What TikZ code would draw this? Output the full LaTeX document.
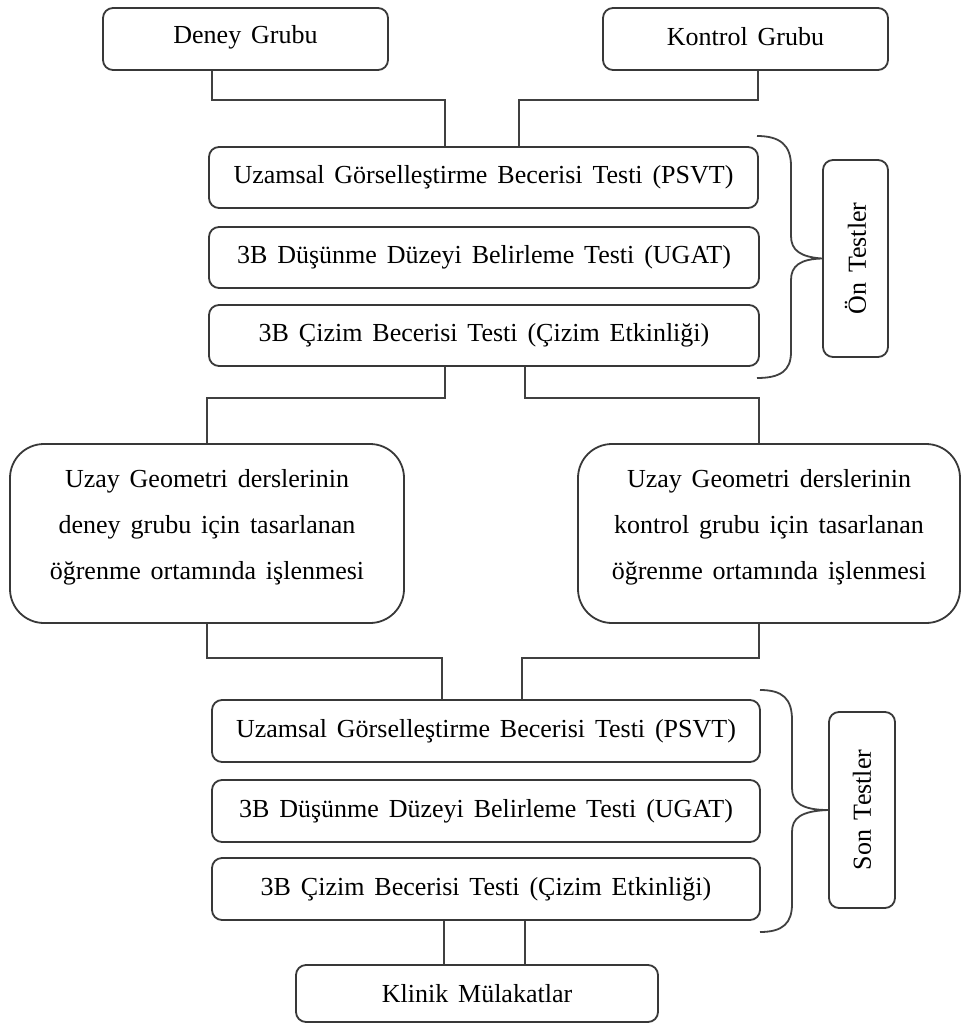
\documentclass[tikz,border=0pt]{standalone}
\usepackage{fontspec}
\setmainfont{Liberation Serif}
\newcommand\myboxfont{\fontsize{26}{46}\selectfont\spaceskip=0.38em\relax}
\newcommand\lift[2]{\raisebox{#1}[\height][\depth]{#2}}
\begin{document}
\begin{tikzpicture}[x=1pt,y=-1pt,
  box/.style={draw=black!78,line width=1.8pt,rounded corners=10pt,inner sep=0pt,
    font=\myboxfont,align=center},
  bigbox/.style={box,rounded corners=34pt},
  conn/.style={draw=black!75,line width=2.4pt},
  bracestyle/.style={draw=black!75,line width=1.8pt}]
\useasboundingbox (0,0) rectangle (963,1028);
% top groups
\node[box,minimum width=285pt,minimum height=62pt] (deney) at (245.5,39) {\lift{2pt}{Deney Grubu}};
\node[box,minimum width=285pt,minimum height=62pt] (kontrol) at (745.5,39) {\lift{2pt}{Kontrol Grubu}};
% pre tests
\node[box,minimum width=549pt,minimum height=61pt] (pre1) at (483.5,177.5) {Uzamsal Görselleştirme Becerisi Testi (PSVT)};
\node[box,minimum width=550pt,minimum height=61pt] (pre2) at (484,257.5) {3B Düşünme Düzeyi Belirleme Testi (UGAT)};
\node[box,minimum width=550pt,minimum height=61pt] (pre3) at (484,335.5) {3B Çizim Becerisi Testi (Çizim Etkinliği)};
\node[box,rotate=90,minimum width=197pt,minimum height=65pt] (on) at (855.5,258.5) {Ön Testler};
% big boxes
\node[bigbox,minimum width=394pt,minimum height=179pt] (bigL) at (207,533.5) {\lift{9pt}{\begin{tabular}{@{}c@{}}Uzay Geometri derslerinin\\deney grubu için tasarlanan\\öğrenme ortamında işlenmesi\end{tabular}}};
\node[bigbox,minimum width=382pt,minimum height=179pt] (bigR) at (769,533.5) {\lift{9pt}{\begin{tabular}{@{}c@{}}Uzay Geometri derslerinin\\kontrol grubu için tasarlanan\\öğrenme ortamında işlenmesi\end{tabular}}};
% post tests
\node[box,minimum width=548pt,minimum height=62pt] (post1) at (486,731) {Uzamsal Görselleştirme Becerisi Testi (PSVT)};
\node[box,minimum width=548pt,minimum height=62pt] (post2) at (486,811) {3B Düşünme Düzeyi Belirleme Testi (UGAT)};
\node[box,minimum width=548pt,minimum height=62pt] (post3) at (486,889) {3B Çizim Becerisi Testi (Çizim Etkinliği)};
\node[box,rotate=90,minimum width=196pt,minimum height=66pt] (son) at (862,810) {Son Testler};
% clinic
\node[box,minimum width=362pt,minimum height=57pt] (klinik) at (477,993.5) {Klinik Mülakatlar};
% x and y reference coordinates
\coordinate (xa) at (212,0);
\coordinate (xb) at (445,0);
\coordinate (xc) at (758,0);
\coordinate (xd) at (519,0);
\coordinate (xe) at (207,0);
\coordinate (xf) at (525,0);
\coordinate (xg) at (759,0);
\coordinate (xh) at (442,0);
\coordinate (xi) at (522,0);
\coordinate (xj) at (444,0);
\coordinate (y1) at (0,100);
\coordinate (y2) at (0,398);
\coordinate (y3) at (0,658);
% connectors
\draw[conn] (deney.south -| xa) -- (xa |- y1) -- (xb |- y1) -- (pre1.north -| xb);
\draw[conn] (kontrol.south -| xc) -- (xc |- y1) -- (xd |- y1) -- (pre1.north -| xd);
\draw[conn] (pre3.south -| xb) -- (xb |- y2) -- (xe |- y2) -- (bigL.north -| xe);
\draw[conn] (pre3.south -| xf) -- (xf |- y2) -- (xg |- y2) -- (bigR.north -| xg);
\draw[conn] (bigL.south -| xe) -- (xe |- y3) -- (xh |- y3) -- (post1.north -| xh);
\draw[conn] (bigR.south -| xg) -- (xg |- y3) -- (xi |- y3) -- (post1.north -| xi);
\draw[conn] (post3.south -| xj) -- (klinik.north -| xj);
\draw[conn] (post3.south -| xf) -- (klinik.north -| xf);
% braces
\draw[bracestyle] (757,136) .. controls (780,136) and (791,145) .. (791,166) -- (791,236)
  .. controls (791,250) and (800,257) .. (on.north) .. controls (800,259) and (791,266) .. (791,280)
  -- (791,352) .. controls (791,371) and (780,378) .. (757,378);
\draw[bracestyle] (760,690) .. controls (783,690) and (792,699) .. (792,720) -- (792,788)
  .. controls (792,802) and (801,810) .. (son.north) .. controls (801,811) and (792,818) .. (792,832)
  -- (792,904) .. controls (792,923) and (783,932) .. (760,932);
\end{tikzpicture}
\end{document}
